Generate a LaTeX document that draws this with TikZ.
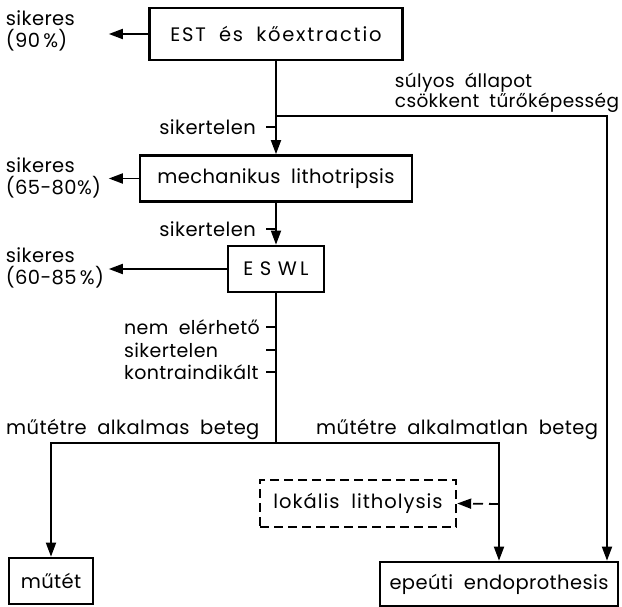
\documentclass[tikz,border=0pt]{standalone}
\usepackage{fontspec}
\setmainfont{Poppins}[LetterSpace=2,WordSpace=1.9]
\usetikzlibrary{positioning,arrows.meta}
\tikzset{
>={Triangle[length=14pt,width=10pt]}, % filled arrow heads
every node/.style={font=\fontsize{19.5}{22}\selectfont,align=left},
box/.style={draw,line width=2.7pt,minimum height=46pt,inner sep=0pt},
dashbox/.style={box,dash pattern=on 9pt off 5pt,line width=2.4pt},
outcome/.style={anchor=west,text width=100pt,inner sep=2pt},
on grid
}

\begin{document}
\begin{tikzpicture}[x=1pt,y=-1pt,line width=1.8pt]
   \useasboundingbox (0,0) rectangle (622,607);
   % main column
   \node[box,minimum width=253pt,minimum height=52pt] (est) at (276,34) {\addfontfeatures{LetterSpace=9}EST és kőextractio};
   \node[box,minimum width=272pt] (mech) [below=144.5pt of est] {mechanikus lithotripsis};
   \node[box,minimum width=96pt] (eswl) [below=90.5pt of mech] {E\,\,S\,\,W\,L};
   % end points
   \node[box,minimum width=84pt] (mutet) at (51,581) {műtét};
   \node[box,minimum width=238pt,minimum height=44pt] (endo) at (499,584) {epeúti endoprothesis};
   \node[dashbox,minimum width=196pt,minimum height=47pt] (lyt) at (358,503.5) {\addfontfeatures{LetterSpace=5}lokális litholysis};
   % outcomes on the left
   \node[outcome] (ok1) at (3,31) {sikeres\\\mbox{(90\,\%)}};
   \node[outcome] (ok2) at (3,178) {sikeres\\\mbox{(65-80\%)}};
   \node[outcome] (ok3) at (3,268) {sikeres\\\mbox{(60-85\,\%)}};
   \node[anchor=east] (fail1) at (260,127) {sikertelen};
   \node[anchor=east] (fail2) at (260,229) {sikertelen};
   \node[anchor=east,font=\fontsize{19}{22.5}\selectfont] (why) at (264,350) {nem elérhető\\sikertelen\\kontraindikált};
   \node[anchor=west,inner sep=0pt,font=\fontsize{18.5}{20}\selectfont] (risk) at (394,93) {súlyos állapot\\csökkent tűrőképesség};
   \node[anchor=west] (fit) at (2,430) {műtétre alkalmas beteg};
   \node[anchor=west] (unfit) at (312,430) {műtétre alkalmatlan beteg};
   \coordinate (fork) at (276,116);
   \coordinate (corner) at (607,116);
   \coordinate (split) at (276,443);
   \coordinate (lj) at (499,504);
   \path[->]
    (est.west)  edge (est.west -| ok1.east)
    (mech.west) edge (mech.west -| ok2.east)
    (eswl.west) edge (eswl.west -| ok3.east)
    (est)  edge (mech)
    (mech) edge (eswl);
   \draw[->] (fork) -- (corner) -- (corner |- endo.north);
   \draw (eswl) -- (split);
   \draw[->] (split) -| (mutet.north);
   \draw[->] (split) -| (endo.north);
   \draw[->,dash pattern=on 10pt off 6pt] (lj) -- (lyt.east);
   \foreach \y in {127,229,327,350,372}
    \draw (266,\y) -- (276,\y);
\end{tikzpicture}
\end{document}
